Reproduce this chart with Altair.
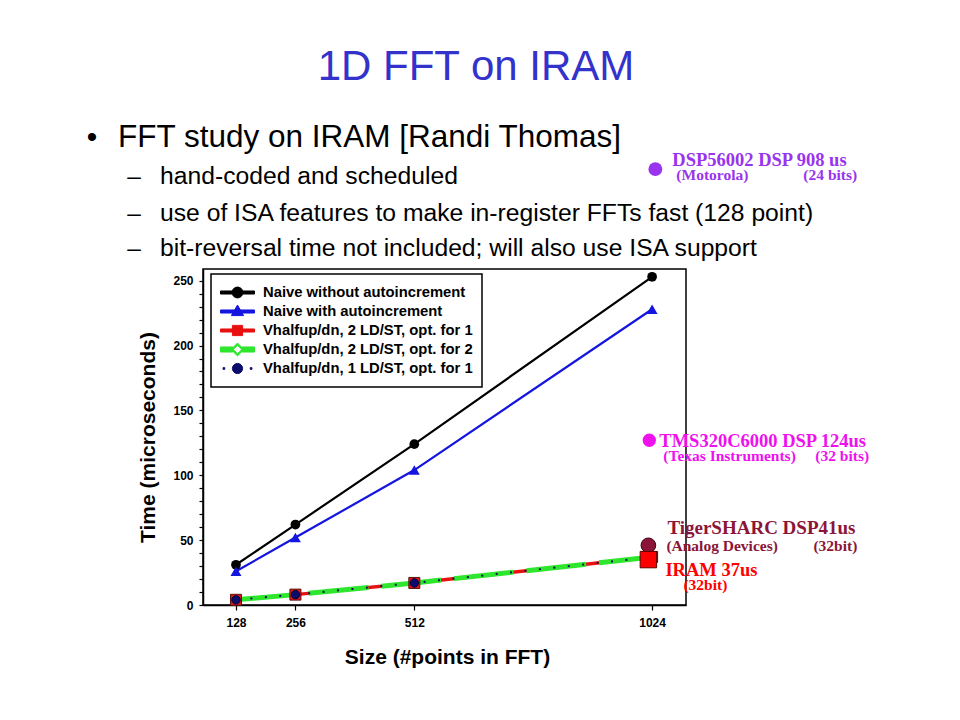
import altair as alt
import pandas as pd

# ---------------- data ----------------
sizes = [128, 256, 512, 1024]
naive_no_autoinc = [31, 62, 124, 253]
naive_autoinc = [26, 52, 104, 228]
vh_2ldst_opt1 = [4, 8, 17, 37]
vh_2ldst_opt2 = [4, 8, 17, 37]
vh_1ldst_opt1 = [4, 8, 17, 37]

series_names = [
    "Naive without autoincrement",
    "Naive with autoincrement",
    "Vhalfup/dn, 2 LD/ST, opt. for 1",
    "Vhalfup/dn, 2 LD/ST, opt. for 2",
    "Vhalfup/dn, 1 LD/ST, opt. for 1",
]
series_values = [naive_no_autoinc, naive_autoinc, vh_2ldst_opt1, vh_2ldst_opt2, vh_1ldst_opt1]

x_ticks = [128, 256, 512, 1024]
y_ticks = list(range(0, 251, 10))

anno_titles = ["DSP56002 DSP 908 us", "TMS320C6000 DSP 124us", "TigerSHARC DSP41us", "IRAM 37us"]
anno_makers = ["(Motorola)", "(Texas Instruments)", "(Analog Devices)", ""]
anno_bits = ["(24 bits)", "(32 bits)", "(32bit)", "(32bit)"]
anno_size = [1031, 1018, 1016, 1016]
anno_time = [336, 127, 46, 35]

slide_title = "1D FFT on IRAM"
bullet_main = "FFT study on IRAM [Randi Thomas]"
bullet_subs = [
    "hand-coded and scheduled",
    "use of ISA features to make in-register FFTs fast (128 point)",
    "bit-reversal time not included; will also use ISA support",
]

# ---------------- tables ----------------
rows = []
for name, vals in zip(series_names, series_values):
    for s, v in zip(sizes, vals):
        rows.append({"series": name, "size": s, "time": v})
df = pd.DataFrame(rows)

anno_df = pd.DataFrame({
    "idx": list(range(len(anno_titles))),
    "title": anno_titles,
    "maker": anno_makers,
    "bits": anno_bits,
    "size": anno_size,
    "time": anno_time,
})

SANS = "Liberation Sans"
SERIF = "Liberation Serif"
PAD_L, PAD_T = 195, 261
PLOT_L, PLOT_T = 8 + PAD_L, 8 + PAD_T
W, H = 483, 336

x_axis = alt.Axis(
    values=x_ticks, format="d", grid=False, labelFont=SANS, labelFontSize=12, labelFontWeight="bold",
    labelColor="black", tickColor="black", tickSize=5, tickWidth=1.2, domainColor="black",
    domainWidth=1.5, labelPadding=7, labelFlush=False, labelOverlap=False,
    title="Size (#points in FFT)", titleFont=SANS, titleFontSize=21, titleFontWeight="bold",
    titleColor="black", titleX=244, titleY=58, titleAlign="center", titleBaseline="alphabetic",
)
y_axis = alt.Axis(
    values=y_ticks, format="d", grid=False, labelExpr="datum.value % 50 === 0 ? datum.label : ''",
    labelFont=SANS, labelFontSize=12, labelFontWeight="bold", labelColor="black",
    tickColor="black", tickSize=4, tickWidth=1.2, domainColor="black", domainWidth=1.5,
    labelPadding=6, labelFlush=False, labelOverlap=False,
    title="Time (microseconds)", titleFont=SANS, titleFontSize=21, titleFontWeight="bold",
    titleColor="black", titleAngle=270, titleX=-55, titleY=168, titleAlign="center",
    titleBaseline="middle",
)
X = alt.X("size:Q", scale=alt.Scale(domain=[57, 1097], nice=False, zero=False), axis=x_axis)
Y = alt.Y("time:Q", scale=alt.Scale(domain=[0, 259], nice=False, zero=False), axis=y_axis)


def sel(name):
    return alt.Chart(df).transform_filter(alt.datum.series == name)


# ---------------- legend (custom line+marker symbols) ----------------
line_rect = "M-1,-0.09L1,-0.09L1,0.09L-1,0.09Z"
circ = "M-0.32,0A0.32,0.32 0 1,1 0.32,0A0.32,0.32 0 1,1 -0.32,0Z"
legend_paths = [
    line_rect + circ,
    line_rect + "M0,-0.38L0.36,0.24L-0.36,0.24Z",
    line_rect + "M-0.3,-0.3L0.3,-0.3L0.3,0.3L-0.3,0.3Z",
    "M-1,-0.15L-0.28,-0.15L-0.28,0.15L-1,0.15Z"
    "M0.28,-0.15L1,-0.15L1,0.15L0.28,0.15Z"
    "M0,-0.38L0.38,0L0,0.38L-0.38,0Z"
    "M0,-0.25L-0.25,0L0,0.25L0.25,0Z",
    "M-0.3,0A0.3,0.3 0 1,1 0.3,0A0.3,0.3 0 1,1 -0.3,0Z"
    "M-0.85,-0.05L-0.75,-0.05L-0.75,0.05L-0.85,0.05Z"
    "M0.75,-0.05L0.85,-0.05L0.85,0.05L0.75,0.05Z",
]
legend_colors = ["#000000", "#1515E0", "#E81010", "#2EE62E", "#0C0C6E"]

leg = alt.Legend(
    title=None, orient="none", legendX=8, legendY=5, symbolSize=1156, symbolStrokeWidth=1,
    clipHeight=19, rowPadding=0, labelFont=SANS, labelFontSize=14.8, labelFontWeight="bold",
    labelColor="black", labelLimit=400, labelOffset=8, padding=9, strokeColor="black",
    fillColor="white", symbolOpacity=1,
)
legend_layer = alt.Chart(df).mark_point(opacity=0, filled=True).encode(
    x=X, y=Y,
    shape=alt.Shape("series:N", scale=alt.Scale(domain=series_names, range=legend_paths), legend=leg),
    fill=alt.Fill("series:N", scale=alt.Scale(domain=series_names, range=legend_colors), legend=leg),
    stroke=alt.Stroke("series:N", scale=alt.Scale(domain=series_names, range=legend_colors), legend=leg),
)

# ---------------- series ----------------
red_line = sel(series_names[2]).mark_line(color="#E81010", strokeWidth=3.5).encode(x=X, y=Y)
green_line = sel(series_names[3]).mark_line(color="#2EE62E", strokeWidth=5, strokeDash=[60, 13]).encode(x=X, y=Y)
dot_line = sel(series_names[4]).mark_line(color="#101050", strokeWidth=2, strokeDash=[2, 12.5]).encode(x=X, y=Y)
black_line = sel(series_names[0]).mark_line(color="black", strokeWidth=2.2).encode(x=X, y=Y)
blue_line = sel(series_names[1]).mark_line(color="#1515E0", strokeWidth=2.2).encode(x=X, y=Y)

black_pts = sel(series_names[0]).mark_point(shape="circle", filled=True, size=95, color="black", opacity=1).encode(x=X, y=Y)
blue_pts = sel(series_names[1]).mark_point(shape="triangle-up", filled=True, size=120, color="#1515E0", opacity=1).encode(x=X, y=Y)
green_pts = sel(series_names[3]).mark_point(shape="diamond", filled=True, size=60, fill="#CCFF99", stroke="#22CC22", strokeWidth=1, opacity=1).encode(x=X, y=Y)
red_pts = sel(series_names[2]).mark_square(size=121, fill="#E01515", stroke="#5A1010", strokeWidth=1, opacity=1).encode(x=X, y=Y)
navy_pts = sel(series_names[4]).mark_circle(size=70, fill="#0C0C6E", stroke="#000033", strokeWidth=1, opacity=1).encode(x=X, y=Y)

# ---------------- annotations ----------------
anno_colors = ["#9933EE", "#EE11EE", "#8B1538", "#FF0000"]


def anno(i):
    return alt.Chart(anno_df).transform_filter(alt.datum.idx == i)


dsp_pt = anno(0).mark_circle(size=193, color=anno_colors[0], opacity=1).encode(x=X, y=Y)
tms_pt = anno(1).mark_circle(size=177, color=anno_colors[1], opacity=1).encode(x=X, y=Y)
tiger_pt = anno(2).mark_circle(size=215, fill=anno_colors[2], stroke="#3A0010", strokeWidth=1, opacity=1).encode(x=X, y=Y)
iram_pt = anno(3).mark_square(size=270, fill=anno_colors[3], stroke="#600000", strokeWidth=1, opacity=1).encode(x=X, y=Y)


def anno_text(i, field, dx, dy, fsize, color):
    return anno(i).mark_text(
        align="left", baseline="alphabetic", dx=dx, dy=dy, font=SERIF, fontWeight="bold",
        fontSize=fsize, color=color,
    ).encode(x=X, y=Y, text=f"{field}:N")


texts = [
    anno_text(0, "title", 17, -3, 18.5, anno_colors[0]),
    anno_text(0, "maker", 21, 11, 15.5, anno_colors[0]),
    anno_text(0, "bits", 148, 11, 15.5, anno_colors[0]),
    anno_text(1, "title", 10, 7, 18.5, anno_colors[1]),
    anno_text(1, "maker", 14, 21, 15.5, anno_colors[1]),
    anno_text(1, "bits", 166, 21, 15.5, anno_colors[1]),
    anno_text(2, "title", 19, -11, 19, anno_colors[2]),
    anno_text(2, "maker", 18, 6, 15.5, anno_colors[2]),
    anno_text(2, "bits", 165, 6, 15.5, anno_colors[2]),
    anno_text(3, "title", 17, 16, 18.5, anno_colors[3]),
    anno_text(3, "bits", 35, 30, 15.5, anno_colors[3]),
]


# ---------------- slide text ----------------
def slide_text(txt, px, py, fsize, color="black", align="left"):
    return alt.Chart(pd.DataFrame({"t": [txt]})).mark_text(
        align=align, baseline="alphabetic", font=SANS, fontSize=fsize, color=color,
    ).encode(x=alt.value(px - PLOT_L), y=alt.value(py - PLOT_T), text="t:N")


slide = [
    slide_text(slide_title, 476, 80, 42, color="#3333CC", align="center"),
    slide_text("\u2022", 92, 147, 30, align="center"),
    slide_text(bullet_main, 118, 147, 31.5),
]
for k, (txt, base) in enumerate(zip(bullet_subs, [184, 221, 256])):
    slide.append(slide_text("\u2013", 134, base, 24.5, align="center"))
    slide.append(slide_text(txt, 160, base, 24.7))

chart = alt.layer(
    legend_layer,
    red_line, green_line, dot_line, black_line, blue_line,
    green_pts, red_pts, navy_pts, black_pts, blue_pts,
    dsp_pt, tms_pt, tiger_pt, iram_pt,
    *texts, *slide,
).properties(
    width=W, height=H,
    autosize=alt.AutoSizeParams(type="none"),
    padding={"left": PAD_L, "top": PAD_T, "right": 266, "bottom": 100},
    background="white",
).configure_view(
    stroke="black", strokeWidth=1.5,
).configure_legend(
    strokeWidth=1.5,
)

chart.save("out.html", embed_options={"renderer": "svg", "actions": False})
